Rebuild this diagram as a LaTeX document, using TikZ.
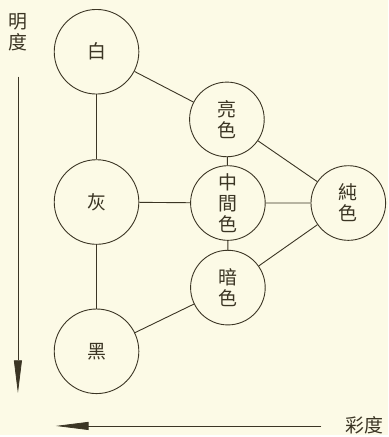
\documentclass[tikz,border=0pt]{standalone}
\usepackage{fontspec}
\usepackage{xcolor}
\newfontfamily\cjk{Noto Sans CJK TC}
\usetikzlibrary{arrows.meta}
\definecolor{paper}{HTML}{FCFAE6}
\definecolor{ink}{HTML}{3B3524}

\begin{document}
\begin{tikzpicture}[x=1pt,y=1pt]
\tikzset{every node/.style={text=ink,font=\cjk\fontsize{19}{21}\selectfont,align=center}}
\tikzset{grey circle/.style={circle,draw=ink,line width=0.9pt,minimum size=85pt,inner sep=0pt}}
\tikzset{hue circle/.style={circle,draw=ink,line width=0.9pt,minimum size=75pt,inner sep=0pt}}
\tikzset{link/.style={draw=ink,line width=0.9pt}}
\tikzset{axis/.style={draw=ink,line width=0.8pt,-{Triangle[length=33pt,width=8pt]}}}

\fill[paper] (0,0) rectangle (390,-437);

\node[grey circle] (white) at (97,-52) {白};
\node[grey circle] (gray) at (97,-203) {灰};
\node[grey circle] (black) at (97,-353) {黑};
\node[hue circle] (light) at (228,-120) {亮\\色};
\node[hue circle] (middle) at (229,-204) {中\\間\\色};
\node[hue circle] (dark) at (229,-289) {暗\\色};
\node[hue circle] (pure) at (350,-204) {純\\色};

\path[link] (white) -- (gray) (gray) -- (black);
\path[link] (white) -- (light) (gray) -- (middle) (black) -- (dark);
\path[link] (light) -- (middle) (middle) -- (dark);
\path[link] (light) -- (pure) (middle) -- (pure) (dark) -- (pure);

% axes
\node (lightness) at (18,-32) {明\\度};
\coordinate (ltop) at (18,-77);
\coordinate (lbot) at (18,-395);
\draw[axis] (ltop) -- (lbot);
\node (chroma) at (366,-427) {彩度};
\coordinate (cright) at (323,-428);
\coordinate (cleft) at (56,-428);
\draw[axis] (cright) -- (cleft);

\end{tikzpicture}
\end{document}
